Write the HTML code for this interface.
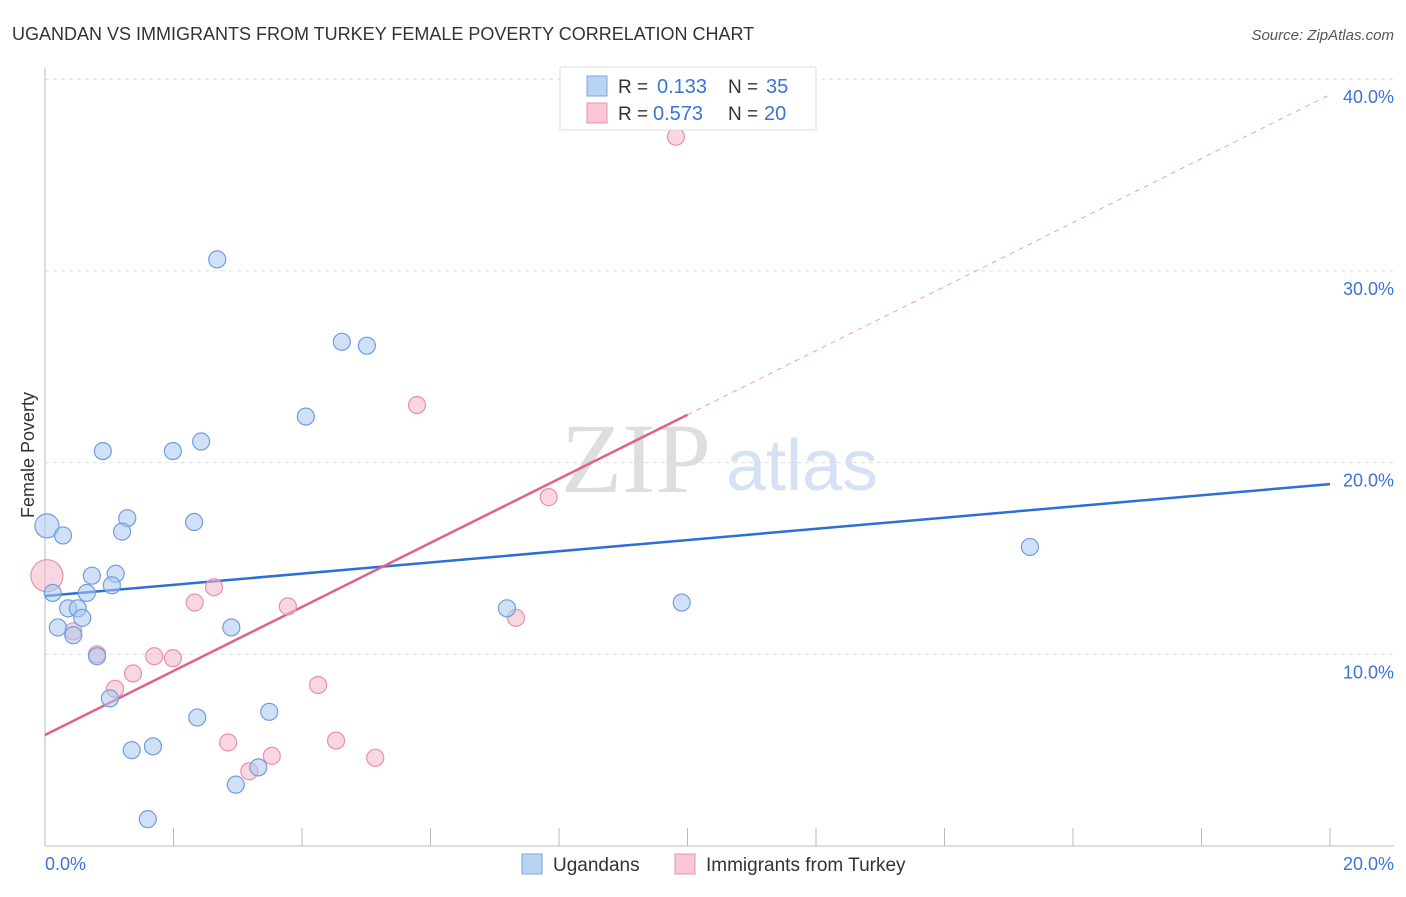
<!DOCTYPE html>
<html><head><meta charset="utf-8"><style>
body{margin:0;background:#fff;font-family:"Liberation Sans",sans-serif}
svg text{font-family:"Liberation Sans",sans-serif}
</style></head><body>
<svg id="chart" width="1406" height="892" viewBox="0 0 1406 892" xmlns="http://www.w3.org/2000/svg">
<text x="12" y="40" font-size="18" fill="#333">UGANDAN VS IMMIGRANTS FROM TURKEY FEMALE POVERTY CORRELATION CHART</text>
<text x="1394" y="40" font-size="15" fill="#555" text-anchor="end" font-style="italic">Source: ZipAtlas.com</text>
<g><text x="636" y="492" font-size="100" fill="#dedede" style="font-family:'Liberation Serif',serif" text-anchor="middle">ZIP</text><text x="802" y="490" font-size="72" fill="#d5e2f4" text-anchor="middle">atlas</text></g>
<g id="grid"></g><g id="axes"></g><g id="lines"></g><g id="points"></g>
<text x="34" y="455" font-size="18" fill="#333" text-anchor="middle" transform="rotate(-90 34 455)">Female Poverty</text>
<text x="45" y="870" font-size="18" fill="#3b73d6">0.0%</text>
<text x="1394" y="870" font-size="18" fill="#3b73d6" text-anchor="end">20.0%</text>
<g>
<rect x="560" y="67" width="256" height="63" fill="#fff" stroke="#ddd"/>
<rect x="587" y="76" width="20" height="20" fill="#b9d3f5" stroke="#7aa6e0"/>
<text x="618" y="93" font-size="19" fill="#333">R = <tspan x="657" font-size="20" fill="#3b73d6">0.133</tspan><tspan x="728">N = </tspan><tspan x="766" font-size="20" fill="#3b73d6">35</tspan></text>
<rect x="587" y="103" width="20" height="20" fill="#f8c6d5" stroke="#e890aa"/>
<text x="618" y="120" font-size="19" fill="#333">R = <tspan x="653" font-size="20" fill="#3b73d6">0.573</tspan><tspan x="728">N = </tspan><tspan x="764" font-size="20" fill="#3b73d6">20</tspan></text>
</g>
<g>
<rect x="522" y="854" width="20" height="20" fill="#b9d3f5" stroke="#7aa6e0"/>
<text x="553" y="871" font-size="19" fill="#333">Ugandans</text>
<rect x="675" y="854" width="20" height="20" fill="#f8c6d5" stroke="#e890aa"/>
<text x="706" y="871" font-size="19" fill="#333">Immigrants from Turkey</text>
</g>
</svg>
<script>
const yTicks=[10,20,30,40];
const yTickLabels=["10.0%","20.0%","30.0%","40.0%"];
const blueX=[0.03,0.28,0.12,0.36,0.51,0.58,0.2,0.44,0.65,0.73,1.1,1.04,0.81,1.01,0.9,1.28,1.2,1.35,1.68,1.6,1.99,2.43,2.68,2.32,2.37,2.9,3.49,3.32,2.97,4.06,4.62,5.01,7.19,9.91,15.33];
const blueY=[16.7,16.2,13.2,12.4,12.4,11.9,11.4,11.0,13.2,14.1,14.2,13.6,9.9,7.7,20.6,17.1,16.4,5.0,5.2,1.4,20.6,21.1,30.6,16.9,6.7,11.4,7.0,4.1,3.2,22.4,26.3,26.1,12.4,12.7,15.6];
const pinkX=[0.03,0.44,0.81,1.09,1.37,1.7,1.99,2.33,2.63,2.85,3.18,3.53,3.78,4.25,4.53,5.14,5.79,7.33,7.84,9.82];
const pinkY=[14.1,11.2,10.0,8.2,9.0,9.9,9.8,12.7,13.5,5.4,3.9,4.7,12.5,8.4,5.5,4.6,23.0,11.9,18.2,37.0];
const blueTrend=[13.04,18.88];
const pinkTrend=[5.79,39.2];
const pinkSolidEnd=10;
const NS="http://www.w3.org/2000/svg";
const X=v=>45+v/20*1285, Y=v=>846-v*19.17;
function mk(t,a,p){const e=document.createElementNS(NS,t);for(const k in a)e.setAttribute(k,a[k]);p.appendChild(e);return e;}
const grid=document.getElementById('grid'),axes=document.getElementById('axes'),lines=document.getElementById('lines'),pts=document.getElementById('points');
yTicks.forEach((t,i)=>{
 const l=mk('line',{x1:45,x2:1394,y1:Y(t),y2:Y(t),stroke:'#ddd','stroke-dasharray':'4,4'},grid);
 
 
 const tx=mk('text',{x:1394,y:Y(t)+24,'font-size':18,fill:'#3b73d6','text-anchor':'end'},grid);
 tx.textContent=yTickLabels[i];
 
 
});
const ax=mk('line',{x1:45,x2:45,y1:68,y2:846,stroke:'#bbb'},axes);


const bx=mk('line',{x1:45,x2:1394,y1:846,y2:846,stroke:'#bbb'},axes);


for(let i=0;i<=10;i++){const t=mk('line',{x1:X(i*2),x2:X(i*2),y1:828,y2:846,stroke:'#bbb'},axes);
 
 }
function pt(x,y,fill,stroke,r,name){const c=mk('circle',{cx:X(x),cy:Y(y),r:r,fill:fill,stroke:stroke,'stroke-width':1.2},pts);
 
 }
pinkX.forEach((x,i)=>pt(x,pinkY[i],'rgba(245,180,200,0.55)','#e890aa',i==0?16:8.5,'turkey-point'));
blueX.forEach((x,i)=>pt(x,blueY[i],'rgba(170,200,240,0.55)','#6f9ddf',i==0?12:8.5,'ugandan-point'));
const pAt=x=>pinkTrend[0]+(pinkTrend[1]-pinkTrend[0])*x/20;
const bl=mk('line',{x1:X(0),y1:Y(blueTrend[0]),x2:X(20),y2:Y(blueTrend[1]),stroke:'#2c6fd6','stroke-width':2.5},lines);


const pl=mk('line',{x1:X(0),y1:Y(pAt(0)),x2:X(pinkSolidEnd),y2:Y(pAt(pinkSolidEnd)),stroke:'#e2608a','stroke-width':2.5},lines);


const pd=mk('line',{x1:X(pinkSolidEnd),y1:Y(pAt(pinkSolidEnd)),x2:X(20),y2:Y(pAt(20)),stroke:'#eba0b8','stroke-width':1,'stroke-dasharray':'5,5'},lines);


</script>
</body></html>
